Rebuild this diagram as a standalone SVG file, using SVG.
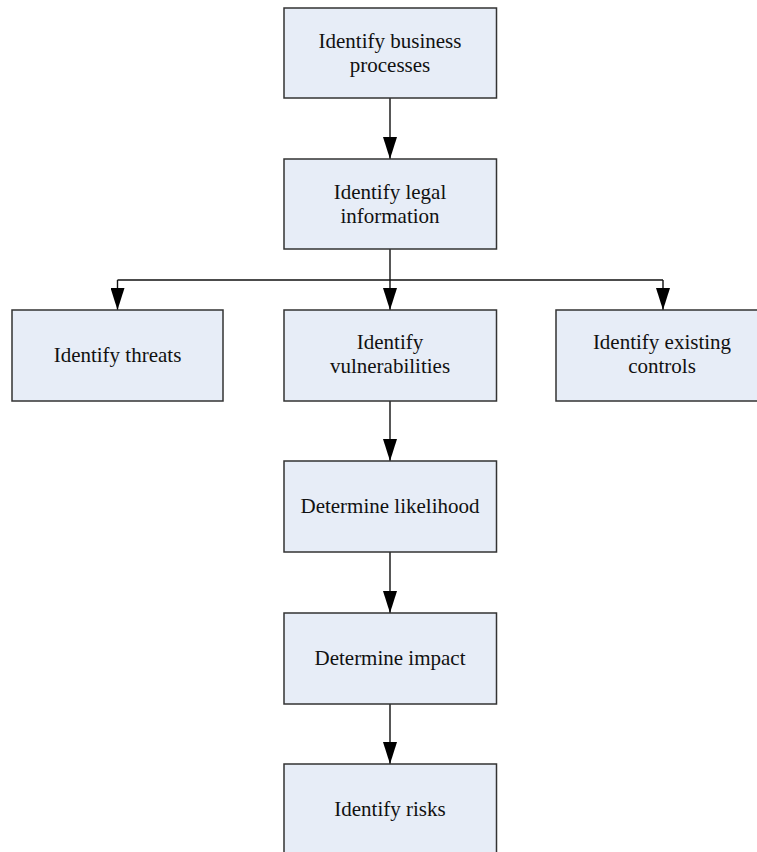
<svg xmlns="http://www.w3.org/2000/svg" width="757" height="852" viewBox="0 0 757 852">
<style>
.box{fill:#E7EDF7;stroke:#333333;stroke-width:1.5}
.lbl{font-family:"Liberation Serif","Times New Roman",serif;font-size:21px;fill:#111111;text-anchor:middle}
.con{fill:none;stroke:#111111;stroke-width:1.4}
</style>
<defs>
<marker id="arr" markerUnits="userSpaceOnUse" markerWidth="22" markerHeight="14" viewBox="0 0 22 14" refX="22" refY="7" orient="auto">
<path d="M0,0 L22,7 L0,14 Z" fill="#000000"/>
</marker>
</defs>
<rect width="757" height="852" fill="#ffffff"/>
<g id="connectors">
<path class="con" d="M390,98 V159" marker-end="url(#arr)"/>
<path class="con" d="M390,249 V310" marker-end="url(#arr)"/>
<path class="con" d="M117.5,280 H663"/>
<path class="con" d="M117.5,280 V310" marker-end="url(#arr)"/>
<path class="con" d="M663,280 V310" marker-end="url(#arr)"/>
<path class="con" d="M390,401 V461" marker-end="url(#arr)"/>
<path class="con" d="M390,552 V613" marker-end="url(#arr)"/>
<path class="con" d="M390,704 V764" marker-end="url(#arr)"/>
</g>
<g id="n1"><rect class="box" x="284" y="8" width="212.5" height="90"/>
<text class="lbl" x="390" y="48">Identify business</text><text class="lbl" x="390" y="72">processes</text></g>
<g id="n2"><rect class="box" x="284" y="159" width="212.5" height="90"/>
<text class="lbl" x="390" y="199">Identify legal</text><text class="lbl" x="390" y="223">information</text></g>
<g id="n3"><rect class="box" x="12" y="310" width="211" height="91"/>
<text class="lbl" x="117.5" y="362">Identify threats</text></g>
<g id="n4"><rect class="box" x="284" y="310" width="212.5" height="91"/>
<text class="lbl" x="390" y="349">Identify</text><text class="lbl" x="390" y="373">vulnerabilities</text></g>
<g id="n5"><rect class="box" x="556" y="310" width="214" height="91"/>
<text class="lbl" x="662" y="349">Identify existing</text><text class="lbl" x="662" y="373">controls</text></g>
<g id="n6"><rect class="box" x="284" y="461" width="212.5" height="91"/>
<text class="lbl" x="390" y="513">Determine likelihood</text></g>
<g id="n7"><rect class="box" x="284" y="613" width="212.5" height="91"/>
<text class="lbl" x="390" y="665">Determine impact</text></g>
<g id="n8"><rect class="box" x="284" y="764" width="212.5" height="91"/>
<text class="lbl" x="390" y="816">Identify risks</text></g>
</svg>
